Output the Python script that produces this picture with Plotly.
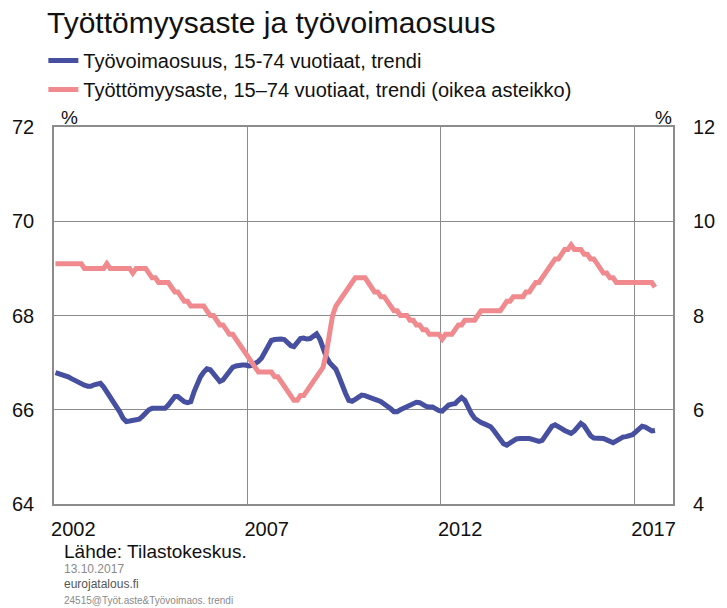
import pandas as pd
import plotly.graph_objects as go

# Monthly trend series, Jan 2002 - Jul 2017
start_month = "2002-01-01"
tyovoimaosuus = [
    66.79, 66.77, 66.75, 66.73, 66.70, 66.66, 66.62, 66.58, 66.55, 66.52, 66.50, 66.50,
    66.53, 66.55, 66.56, 66.48, 66.38, 66.28, 66.20, 66.10, 65.95, 65.82, 65.75, 65.76,
    65.77, 65.78, 65.80, 65.86, 65.93, 66.00, 66.03, 66.03, 66.02, 66.02, 66.03, 66.10,
    66.20, 66.28, 66.28, 66.22, 66.17, 66.15, 66.17, 66.38, 66.55, 66.70, 66.80, 66.87,
    66.85, 66.75, 66.66, 66.60, 66.63, 66.72, 66.82, 66.90, 66.93, 66.95, 66.95, 66.95,
    66.93, 66.94, 66.98, 67.03, 67.10, 67.22, 67.37, 67.47, 67.49, 67.50, 67.50, 67.49,
    67.42, 67.36, 67.34, 67.43, 67.51, 67.52, 67.50, 67.51, 67.56, 67.61, 67.50, 67.30,
    67.12, 67.00, 66.93, 66.86, 66.70, 66.50, 66.35, 66.20, 66.18, 66.22, 66.27, 66.31,
    66.30, 66.28, 66.26, 66.23, 66.20, 66.17, 66.13, 66.08, 66.02, 65.96, 65.96, 66.00,
    66.03, 66.06, 66.10, 66.13, 66.16, 66.15, 66.10, 66.07, 66.06, 66.06, 66.02, 65.98,
    65.97, 66.03, 66.10, 66.12, 66.13, 66.20, 66.26, 66.20, 66.05, 65.92, 65.82, 65.76,
    65.73, 65.70, 65.68, 65.64, 65.56, 65.46, 65.35, 65.28, 65.25, 65.30, 65.35, 65.38,
    65.39, 65.39, 65.40, 65.39, 65.37, 65.34, 65.33, 65.35, 65.45, 65.56, 65.65, 65.68,
    65.65, 65.60, 65.56, 65.52, 65.50, 65.55, 65.65, 65.71, 65.66, 65.55, 65.45, 65.40,
    65.40, 65.39, 65.39, 65.36, 65.32, 65.30, 65.34, 65.39, 65.42, 65.43, 65.44, 65.47,
    65.53, 65.60, 65.65, 65.63, 65.58, 65.55, 65.56,
]
tyottomyysaste = [
    9.1, 9.1, 9.1, 9.1, 9.1, 9.1, 9.1, 9.1, 9.1, 9.0, 9.0, 9.0,
    9.0, 9.0, 9.0, 9.0, 9.1, 9.0, 9.0, 9.0, 9.0, 9.0, 9.0, 9.0,
    8.9, 9.0, 9.0, 9.0, 9.0, 8.9, 8.8, 8.8, 8.7, 8.7, 8.7, 8.7,
    8.6, 8.5, 8.5, 8.4, 8.3, 8.3, 8.2, 8.2, 8.2, 8.2, 8.2, 8.1,
    8.0, 8.0, 7.9, 7.8, 7.8, 7.7, 7.6, 7.6, 7.5, 7.4, 7.3, 7.2,
    7.1, 7.0, 6.9, 6.8, 6.8, 6.8, 6.8, 6.8, 6.7, 6.7, 6.6, 6.5,
    6.4, 6.3, 6.2, 6.2, 6.3, 6.3, 6.4, 6.5, 6.6, 6.7, 6.8, 6.9,
    7.2, 7.7, 8.0, 8.2, 8.3, 8.4, 8.5, 8.6, 8.7, 8.8, 8.8, 8.8,
    8.8, 8.7, 8.6, 8.5, 8.5, 8.4, 8.4, 8.3, 8.2, 8.1, 8.1, 8.0,
    8.0, 8.0, 7.9, 7.9, 7.8, 7.8, 7.7, 7.7, 7.6, 7.6, 7.6, 7.6,
    7.5, 7.6, 7.6, 7.6, 7.7, 7.8, 7.8, 7.9, 7.9, 7.9, 7.9, 8.0,
    8.1, 8.1, 8.1, 8.1, 8.1, 8.1, 8.1, 8.2, 8.3, 8.3, 8.4, 8.4,
    8.4, 8.4, 8.5, 8.5, 8.6, 8.7, 8.7, 8.8, 8.9, 9.0, 9.1, 9.2,
    9.2, 9.3, 9.4, 9.4, 9.5, 9.4, 9.4, 9.4, 9.3, 9.3, 9.2, 9.2,
    9.1, 9.0, 8.9, 8.9, 8.8, 8.8, 8.7, 8.7, 8.7, 8.7, 8.7, 8.7,
    8.7, 8.7, 8.7, 8.7, 8.7, 8.7, 8.6,
]
year_labels = ["2002", "2007", "2012", "2017"]
grid_years = ["2007", "2012", "2017"]
left_ticks = [64, 66, 68, 70, 72]
right_ticks = [4, 6, 8, 10, 12]

series_names = [
    "Työvoimaosuus, 15-74 vuotiaat, trendi",
    "Työttömyysaste, 15–74 vuotiaat, trendi (oikea asteikko)",
]
title_text = "Työttömyysaste ja työvoimaosuus"
source_lines = ["Lähde: Tilastokeskus.", "13.10.2017", "eurojatalous.fi",
                "24515@Työt.aste&Työvoimaos. trendi"]

dates = pd.date_range(start_month, periods=len(tyovoimaosuus), freq="MS") + pd.Timedelta(days=14)

FONT = "Liberation Sans, Arial, sans-serif"
BLUE = "#464FA0"
PINK = "#F08A8E"
GRID = "#8C8C8C"
TXT = "#111111"

fig = go.Figure()
fig.add_trace(go.Scatter(x=dates, y=tyovoimaosuus, name=series_names[0], mode="lines",
                         line=dict(color=BLUE, width=5), yaxis="y"))
fig.add_trace(go.Scatter(x=dates, y=tyottomyysaste, name=series_names[1], mode="lines",
                         line=dict(color=PINK, width=5), yaxis="y2"))

fig.update_layout(
    width=727, height=608,
    margin=dict(l=54, r=44, t=127, b=104),
    paper_bgcolor="white", plot_bgcolor="white",
    font=dict(family=FONT, color=TXT, size=20),
    title=dict(text=title_text, x=47 / 727, xanchor="left", xref="container",
               y=1 - 22 / 608, yanchor="middle", yref="container",
               font=dict(size=30, family=FONT, color=TXT)),
    showlegend=True,
    legend=dict(x=-0.0172, xanchor="left", y=1.228, yanchor="top",
                font=dict(size=20, family=FONT, color=TXT),
                bgcolor="rgba(0,0,0,0)", itemwidth=30, tracegroupgap=0),
    xaxis=dict(
        type="date",
        range=["2002-01-01", "2018-01-01"],
        tickmode="array",
        tickvals=[f"{y}-07-02" for y in year_labels],
        ticktext=year_labels,
        ticks="", ticklabelstandoff=6,
        showgrid=False, zeroline=False,
        showline=True, linecolor=GRID, linewidth=1.5, mirror=True,
        minor=dict(tickmode="array", tickvals=[f"{y}-01-01" for y in grid_years],
                   showgrid=True, gridcolor=GRID, gridwidth=1.2, ticks=""),
        tickfont=dict(size=20, family=FONT, color=TXT),
    ),
    yaxis=dict(
        range=[64, 72], tickmode="array", tickvals=left_ticks,
        ticks="", ticklabelstandoff=14,
        showgrid=True, gridcolor=GRID, gridwidth=1.2, zeroline=False,
        showline=True, linecolor=GRID, linewidth=1.5, mirror=True,
        tickfont=dict(size=20, family=FONT, color=TXT),
    ),
    yaxis2=dict(
        range=[4, 12], tickmode="array", tickvals=right_ticks,
        overlaying="y", side="right",
        ticks="", ticklabelstandoff=19,
        showgrid=False, zeroline=False, showline=False,
        tickfont=dict(size=20, family=FONT, color=TXT),
    ),
)

# "%" unit markers
fig.add_annotation(text="%", xref="paper", yref="paper", x=(59 - 54) / 629, y=1.0 - 3 / 377,
                   xanchor="left", yanchor="bottom", showarrow=False,
                   font=dict(size=19, family=FONT, color=TXT))
fig.add_annotation(text="%", xref="paper", yref="paper", x=1.002, y=1.0 - 3 / 377,
                   xanchor="right", yanchor="bottom", showarrow=False,
                   font=dict(size=19, family=FONT, color=TXT))

# Source / footer lines
footer_y = [551, 569, 584, 600]
footer_size = [19, 12, 12, 10]
footer_color = ["#111111", "#8a8a8a", "#555555", "#8a8a8a"]
for txt, py, sz, col in zip(source_lines, footer_y, footer_size, footer_color):
    fig.add_annotation(text=txt, xref="paper", yref="paper", x=(62 - 54) / 629,
                       y=-(py - 504) / 377, xanchor="left", yanchor="middle",
                       showarrow=False, font=dict(size=sz, family=FONT, color=col))

fig.write_html("out.html", config={"displayModeBar": False},
               post_script="document.body.style.margin='0';")
